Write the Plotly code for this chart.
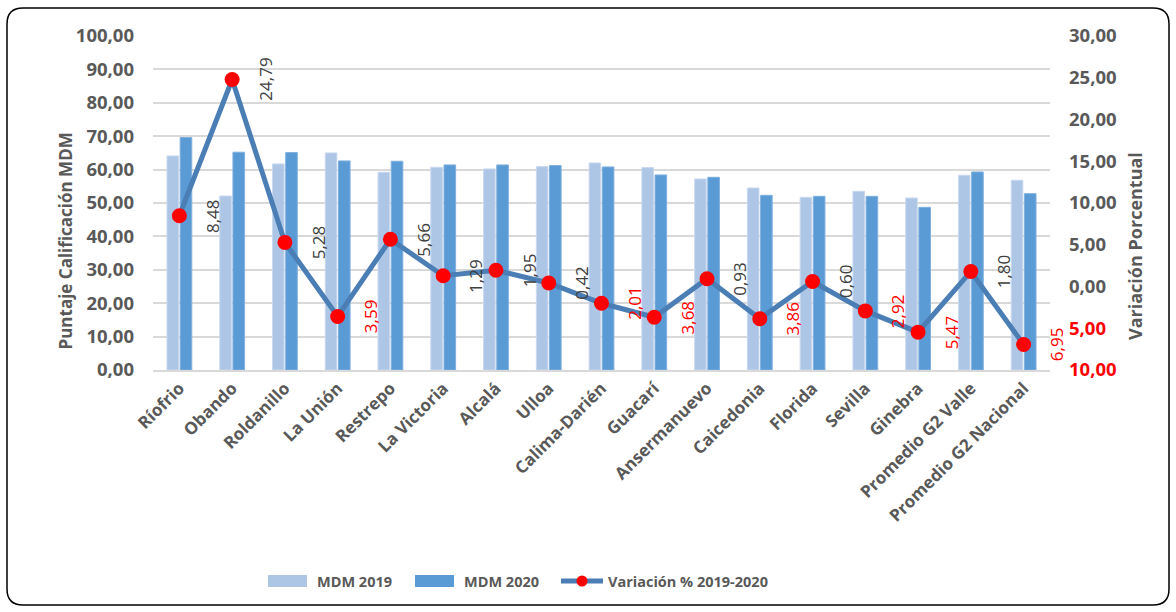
import plotly.graph_objects as go

# ── Data ────────────────────────────────────────────────────────────────
municipios = [
    "Ríofrio", "Obando", "Roldanillo", "La Unión", "Restrepo", "La Victoria",
    "Alcalá", "Ulloa", "Calima-Darién", "Guacarí", "Ansermanuevo",
    "Caicedonia", "Florida", "Sevilla", "Ginebra", "Promedio G2 Valle",
    "Promedio G2 Nacional",
]
mdm_2019 = [64.1, 52.1, 61.7, 65.0, 59.2, 60.7, 60.2, 60.9, 62.0, 60.6,
            57.2, 54.5, 51.7, 53.5, 51.5, 58.3, 56.8]
mdm_2020 = [69.6, 65.2, 65.1, 62.6, 62.5, 61.4, 61.4, 61.2, 60.8, 58.4,
            57.7, 52.3, 52.0, 52.0, 48.7, 59.3, 52.8]
variacion = [8.48, 24.79, 5.28, -3.59, 5.66, 1.29, 1.95, 0.42, -2.01, -3.68,
             0.93, -3.86, 0.60, -2.92, -5.47, 1.80, -6.95]

left_tickvals = [0, 10, 20, 30, 40, 50, 60, 70, 80, 90, 100]
right_tickvals = [30, 25, 20, 15, 10, 5, 0, -5, -10]
right_ticklabels = ["30,00", "25,00", "20,00", "15,00", "10,00", "5,00",
                    "0,00", "5,00", "10,00"]

# ── Style ───────────────────────────────────────────────────────────────
FONT = "Open Sans"
GRAY = "#595959"
DARK = "#404040"
RED = "#FF0000"
C2019 = "#AEC6E6"
C2020 = "#5B9BD5"
CLINE = "#4A7EB5"

W, H = 1176, 612
L, R, T, B = 153, 1050, 36, 370   # plot area in pixels


def px(x):
    return (x - L) / (R - L)


def py(y):
    return (B - y) / (B - T)


fig = go.Figure()

fig.add_trace(go.Bar(
    x=municipios, y=mdm_2019, name="MDM 2019", marker_color=C2019,
    marker_line=dict(color="#C9D9EF", width=1),
))
fig.add_trace(go.Bar(
    x=municipios, y=mdm_2020, name="MDM 2020", marker_color=C2020,
    marker_line=dict(color="#7FB0DE", width=1),
))
fig.add_trace(go.Scatter(
    x=municipios, y=variacion, yaxis="y2", mode="lines+markers",
    name="Variación % 2019-2020", cliponaxis=False,
    line=dict(color=CLINE, width=5),
    marker=dict(color=RED, size=15),
))

# data labels of the variation line (negatives shown red, without sign)
for name, v in zip(municipios, variacion):
    fig.add_annotation(
        x=name, y=v, xref="x", yref="y2", showarrow=False, xshift=33,
        text=f"{abs(v):.2f}".replace(".", ","), textangle=-90,
        font=dict(family=FONT, size=17, color=RED if v < 0 else DARK),
    )

# axis titles
fig.add_annotation(
    x=px(51), y=py(241), xref="paper", yref="paper", showarrow=False,
    text="Puntaje Calificación MDM", textangle=-90,
    font=dict(family=FONT, size=17, color=GRAY, weight="bold"),
)
fig.add_annotation(
    x=px(1149), y=py(246), xref="paper", yref="paper", showarrow=False,
    text="Variación Porcentual", textangle=-90,
    font=dict(family=FONT, size=18, color=GRAY, weight="bold"),
)

# ── Legend (drawn by hand to get the wide Excel swatches) ───────────────
leg_y = 581
leg_font = dict(family=FONT, size=14.5, color=GRAY, weight="bold")
for x0, color in [(268, C2019), (415, C2020)]:
    fig.add_shape(type="rect", xref="paper", yref="paper",
                  x0=px(x0), x1=px(x0 + 39), y0=py(leg_y - 6), y1=py(leg_y + 6),
                  fillcolor=color, line_width=0)
fig.add_shape(type="line", xref="paper", yref="paper",
              x0=px(561), x1=px(603), y0=py(leg_y), y1=py(leg_y),
              line=dict(color=CLINE, width=5))
fig.add_shape(type="circle", xref="paper", yref="paper",
              x0=px(576.5), x1=px(587.5), y0=py(leg_y - 5.5), y1=py(leg_y + 5.5),
              fillcolor=RED, line_width=0)
for x0, label in [(315, "MDM 2019"), (462, "MDM 2020"),
                  (606, "Variación % 2019-2020")]:
    fig.add_annotation(x=px(x0), y=py(leg_y), xref="paper", yref="paper",
                       xanchor="left", yanchor="middle", showarrow=False,
                       text=label, font=leg_font)

# rounded chart border
x0, x1, y0, y1, rad = px(7), px(1169), py(8), py(605), 16
rx, ry = rad / (R - L), rad / (B - T)
path = (f"M{x0 + rx},{y0} L{x1 - rx},{y0} Q{x1},{y0} {x1},{y0 - ry} "
        f"L{x1},{y1 + ry} Q{x1},{y1} {x1 - rx},{y1} "
        f"L{x0 + rx},{y1} Q{x0},{y1} {x0},{y1 + ry} "
        f"L{x0},{y0 - ry} Q{x0},{y0} {x0 + rx},{y0} Z")
fig.add_shape(type="path", path=path, xref="paper", yref="paper",
              line=dict(color="black", width=1.5), layer="below")

right_ticktext = [
    f"<span style='color:{RED}'>{t}</span>" if v < 0 else t
    for v, t in zip(right_tickvals, right_ticklabels)
]

fig.update_layout(
    width=W, height=H,
    margin=dict(l=L, r=W - R, t=T, b=H - B, autoexpand=False),
    paper_bgcolor="white", plot_bgcolor="white",
    separators=",.",
    showlegend=False,
    barmode="group", bargap=0.5, bargroupgap=0.12,
    font=dict(family=FONT, color=GRAY),
    xaxis=dict(range=[-0.5, len(municipios) - 0.5], tickangle=-45,
               showgrid=False, showline=True,
               linecolor="#D9D9D9", linewidth=1.5,
               tickfont=dict(family=FONT, size=17, color=GRAY,
                             weight="bold")),
    yaxis=dict(range=[0, 100], tickvals=left_tickvals, tickformat=".2f",
               showgrid=True, gridcolor="#D9D9D9", gridwidth=1.5,
               zeroline=False, ticklabelstandoff=18,
               tickfont=dict(family=FONT, size=18.5, color=GRAY,
                             weight="bold")),
    yaxis2=dict(range=[-10, 30], overlaying="y", side="right",
                tickvals=right_tickvals, ticktext=right_ticktext,
                showgrid=False, zeroline=False, ticklabelstandoff=18,
                tickfont=dict(family=FONT, size=18.5, color=GRAY,
                              weight="bold")),
)

fig.write_html("out.html", config={"displayModeBar": False},
               post_script="document.body.style.margin='0';")
